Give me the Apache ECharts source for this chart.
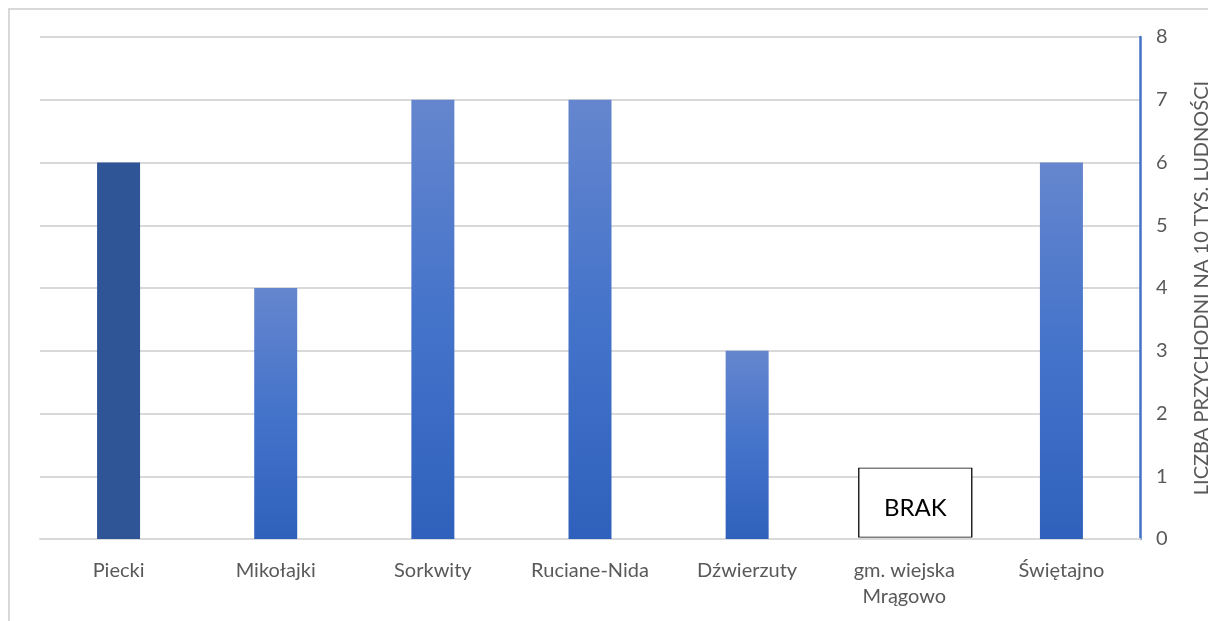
<!DOCTYPE html>
<html>
<head>
<meta charset="utf-8">
<script src="https://cdn.jsdelivr.net/npm/echarts@6/dist/echarts.min.js"></script>
<style>
  html, body { margin: 0; padding: 0; background: #fff; overflow: hidden; }
  #frame { position: absolute; left: 8px; top: 8px; width: 1220px; height: 640px; border: 2px solid #D9D9D9; box-sizing: border-box; }
  #main { position: absolute; left: 0; top: 0; width: 1208px; height: 621px; }
</style>
</head>
<body>
<div id="frame"></div>
<div id="main"></div>
<script>
// dane z wykresu
const gminy = ['Piecki', 'Mikołajki', 'Sorkwity', 'Ruciane-Nida', 'Dźwierzuty', 'gm. wiejska\nMrągowo', 'Świętajno'];
const przychodnie = [6, 4, 7, 7, 3, null, 6];
const brakNote = ['gm. wiejska\nMrągowo', 0.58];
const yTicks = { min: 0, max: 8, interval: 1 };

let chart = echarts.init(document.getElementById('main'));

const gradient = new echarts.graphic.LinearGradient(0, 0, 0, 1, [
    { offset: 0, color: '#6586CE' },
    { offset: 0.5, color: '#4473CA' },
    { offset: 1, color: '#2F61BC' }
]);

const option = {
    animation: false,
    grid: { left: 40, right: 68, top: 37, bottom: 82, outerBoundsMode: 'none', containLabel: false },
    xAxis: {
        type: 'category',
        data: gminy,
        axisLine: { show: true, lineStyle: { color: '#D9D9D9', width: 2 } },
        axisTick: { show: false },
        axisLabel: {
            color: '#595959', fontSize: 20, fontFamily: 'Lato', margin: 19,
            lineHeight: 26, interval: 0
        }
    },
    yAxis: {
        type: 'value',
        position: 'right',
        min: yTicks.min, max: yTicks.max, interval: yTicks.interval,
        name: 'LICZBA PRZYCHODNI NA 10 TYS. LUDNOŚCI',
        nameLocation: 'middle',
        nameRotate: 90,
        nameGap: 52,
        nameTextStyle: { color: '#595959', fontSize: 20, fontFamily: 'Lato' },
        axisLine: { show: true, lineStyle: { color: '#4472C4', width: 2.5 } },
        axisTick: { show: false },
        axisLabel: { color: '#595959', fontSize: 20, fontFamily: 'Lato', margin: 16 },
        splitLine: { lineStyle: { color: '#D9D9D9', width: 2 } }
    },
    series: [{
        type: 'bar',
        barWidth: 43,
        data: przychodnie.map((v, i) => ({
            value: v,
            itemStyle: { color: i === 0 ? '#2F5597' : gradient }
        })),
        markPoint: {
            symbol: 'rect',
            symbolSize: [113, 69],
            symbolOffset: [11, 0],
            itemStyle: { color: '#fff', borderColor: '#000', borderWidth: 1 },
            label: {
                show: true, formatter: 'BRAK', color: '#000',
                fontSize: 24, fontFamily: 'Lato', offset: [0, 6]
            },
            data: [{ coord: brakNote }]
        }
    }]
};
chart.setOption(option);
</script>
</body>
</html>
